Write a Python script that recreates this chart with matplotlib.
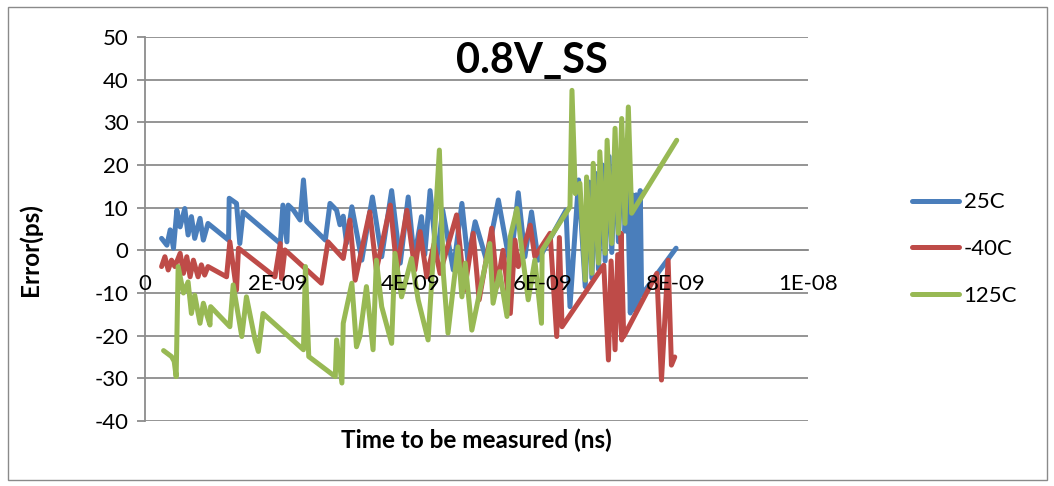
import numpy as np
import matplotlib
matplotlib.use("Agg")
import matplotlib.pyplot as plt
from matplotlib.patches import Rectangle

plt.rcParams['font.family'] = ['Lato', 'DejaVu Sans']
plt.rcParams['axes.unicode_minus'] = False

# ---- data: time in ns, error in ps ----
t_25c = [0.25, 0.33, 0.38, 0.43, 0.48, 0.53, 0.60, 0.65, 0.70, 0.75, 0.83, 0.88, 0.95,
         1.26, 1.27, 1.38, 1.43, 1.48, 2.04, 2.08, 2.14, 2.16, 2.24, 2.34, 2.39, 2.44,
         2.72, 2.79, 2.89, 2.94, 2.99, 3.04, 3.12, 3.27, 3.43, 3.57, 3.72, 3.85, 3.97,
         4.06, 4.17, 4.22, 4.30, 4.40, 4.49, 4.65, 4.78, 4.87, 4.98, 5.15, 5.33, 5.51,
         5.63, 5.73, 5.83, 5.93, 6.35, 6.41, 6.54, 6.64, 6.70, 6.74, 6.80, 6.84, 6.90,
         6.94, 7.00, 7.04, 7.10, 7.14, 7.20, 7.24, 7.28, 7.32, 7.35, 7.38, 7.41, 7.44,
         7.47, 7.49, 8.01]
e_25c = [2.8, 1.2, 4.8, 0.5, 9.4, 5.5, 9.8, 3.6, 7.9, 2.8, 7.5, 2.4, 6.3,
         2.4, 12.2, 11.0, 1.6, 9.0, 1.6, 10.6, 2.0, 10.6, 9.4, 7.1, 16.5, 6.7,
         2.4, 11.0, 9.4, 6.0, 8.0, 1.7, 10.2, -2.3, 12.5, -1.5, 14.0, -3.0, 12.5,
         -2.0, 7.9, -1.0, 14.0, -2.3, 9.4, -4.6, 11.0, -2.3, 6.7, -2.3, 11.8, -3.8,
         13.5, -1.5, 9.0, -2.3, 9.4, -13.2, 16.5, -8.5, 16.0, -6.5, 18.0, -4.5, 20.0,
         -2.5, 22.0, -0.5, 24.0, 2.0, 26.0, 4.5, 14.0, -14.7, 13.0, -14.0, 13.0, -13.0,
         14.0, -10.5, 0.5]

t_m40c = [0.25, 0.30, 0.35, 0.40, 0.45, 0.53, 0.58, 0.63, 0.68, 0.73, 0.80, 0.85, 0.90,
          0.95, 1.23, 1.28, 1.38, 1.41, 1.96, 2.04, 2.06, 2.11, 2.66, 2.76, 2.99, 3.09,
          3.17, 3.39, 3.49, 3.70, 3.80, 3.95, 4.07, 4.15, 4.25, 4.36, 4.45, 4.70, 4.82,
          4.95, 5.04, 5.23, 5.31, 5.40, 5.51, 5.58, 5.63, 5.81, 5.88, 6.11, 6.21, 6.25,
          6.29, 6.92, 6.99, 7.03, 7.09, 7.13, 7.19, 7.18, 7.22, 7.72, 7.79, 7.89, 7.94,
          7.99]
e_m40c = [-3.8, -1.5, -4.6, -2.3, -3.8, -0.7, -5.4, -1.5, -6.2, -2.3, -6.2, -3.4, -5.8,
          -3.8, -6.2, 2.0, -9.3, 0.5, -6.2, 1.6, -6.6, 0.1, -7.7, 2.0, -1.9, 7.1,
          -7.0, 9.0, -4.6, 10.6, -4.6, 9.4, -4.6, 4.4, -6.2, 1.5, -5.4, 8.3, -9.3,
          4.0, -11.6, 5.2, -8.5, 0.0, -14.8, 2.4, -3.8, 5.9, -1.5, 4.0, -20.2, 3.0,
          -17.9, -3.5, -25.7, -2.5, -23.3, -1.0, -21.0, 4.0, -20.2, -5.4, -30.4, -2.3, -26.9,
          -25.0]

t_125c = [0.28, 0.40, 0.44, 0.47, 0.50, 0.58, 0.65, 0.70, 0.75, 0.83, 0.88, 0.93, 0.98,
          0.99, 1.28, 1.33, 1.46, 1.53, 1.66, 1.71, 1.78, 2.39, 2.42, 2.47, 2.87, 2.89,
          2.97, 2.99, 3.12, 3.19, 3.24, 3.34, 3.44, 3.49, 3.57, 3.72, 3.77, 3.87, 4.02,
          4.12, 4.27, 4.35, 4.44, 4.50, 4.57, 4.72, 4.78, 4.83, 4.93, 5.20, 5.25, 5.35,
          5.46, 5.51, 5.61, 5.70, 5.78, 5.88, 5.98, 5.99, 6.41, 6.44, 6.49, 6.56, 6.64,
          6.66, 6.74, 6.76, 6.84, 6.86, 6.94, 6.97, 7.04, 7.09, 7.14, 7.19, 7.24, 7.29,
          7.34, 8.02]
e_125c = [-23.5, -24.9, -26.0, -29.6, -3.8, -10.0, -7.4, -14.8, -10.5, -17.1, -12.4, -15.0, -17.5,
          -13.2, -17.9, -8.1, -20.2, -10.9, -21.0, -23.7, -14.8, -23.3, -3.8, -24.9, -29.6, -21.0,
          -31.1, -17.1, -7.7, -22.6, -20.2, -8.5, -23.3, -2.3, -13.2, -21.8, -0.7, -10.9, -1.9,
          -11.6, -21.0, -0.7, 23.5, -5.4, -19.4, 0.8, -10.9, -3.0, -18.7, 1.6, -12.4, -5.0,
          -15.5, 3.2, 9.8, -2.0, -11.6, -2.3, -17.1, 0.0, 10.2, 37.5, 13.3, 15.7, -7.0,
          17.2, -5.4, 20.4, -3.0, 23.1, -0.7, 25.8, 1.6, 28.6, 4.0, 30.9, 6.3, 33.6,
          8.7, 25.8]

series_names = ["25C", "-40C", "125C"]
series_colors = ["#4A7EBB", "#BE4B48", "#98B954"]

x_ticks = [0, 2e-9, 4e-9, 6e-9, 8e-9, 1e-8]
x_tick_labels = ["0", "2E-09", "4E-09", "6E-09", "8E-09", "1E-08"]
y_ticks = [-40, -30, -20, -10, 0, 10, 20, 30, 40, 50]

# ---- figure ----
W, H = 1054, 486
fig = plt.figure(figsize=(W / 100, H / 100), dpi=100)
fig.patches.append(Rectangle((8 / W, 6 / H), 1039 / W, 473 / H, transform=fig.transFigure,
                             fill=False, edgecolor="#8a8a8a", lw=1.0))

ax = fig.add_axes([145 / W, 1 - 421 / H, 663 / W, 384 / H])
grid_c = "#8c8c8c"

for t, e, name, c, z in zip([t_25c, t_m40c, t_125c], [e_25c, e_m40c, e_125c],
                            series_names, series_colors, [3, 4, 5]):
    ax.plot(np.array(t) * 1e-9, e, color=c, lw=3.6, label=name, zorder=z,
            solid_joinstyle="round", solid_capstyle="round")

ax.set_xlim(0, 1e-8)
ax.set_ylim(-40, 50)
ax.set_yticks(y_ticks)
ax.set_xticks(x_ticks)
ax.set_xticklabels(x_tick_labels)
ax.yaxis.grid(True, color=grid_c, lw=1.3, zorder=0)
ax.set_axisbelow(True)
# time labels sit on top of the traces
ax.xaxis.set_zorder(10)

for s in ["top", "right"]:
    ax.spines[s].set_visible(False)
ax.spines["left"].set_color(grid_c)
ax.spines["left"].set_linewidth(1.3)
ax.spines["bottom"].set_position(("data", 0))
ax.spines["bottom"].set_color(grid_c)
ax.spines["bottom"].set_linewidth(1.3)
ax.spines["bottom"].set_zorder(1)

tick_fs = 16
ax.tick_params(axis="y", direction="out", length=6, width=1.3, color=grid_c,
               labelsize=tick_fs, pad=6)
ax.tick_params(axis="x", length=0, labelsize=tick_fs, pad=17)

fig.text(532 / W, 1 - 61 / H, "0.8V_SS", ha="center", va="center",
         fontsize=30, fontweight="bold")
fig.text(30 / W, 1 - 250 / H, "Error(ps)", ha="center", va="center", rotation=90,
         fontsize=17.5, fontweight="bold")
fig.text(476 / W, 1 - 440 / H, "Time to be measured (ns)", ha="center", va="center",
         fontsize=17.5, fontweight="bold")

fig.legend(loc="center left", bbox_to_anchor=(912 / W, 1 - 249 / H), frameon=False,
           fontsize=16, handlelength=2.1, handletextpad=0.22, labelspacing=1.2,
           borderpad=0, borderaxespad=0)

fig.savefig("out.png", dpi=100)
